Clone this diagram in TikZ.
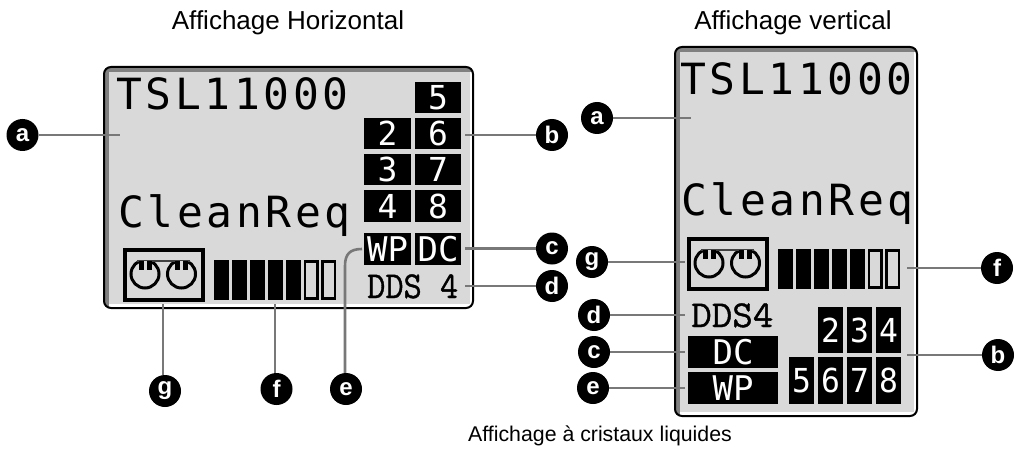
\documentclass[tikz,border=0pt]{standalone}
\usepackage{fontspec}
\setmainfont{Liberation Sans}
\newfontfamily\lcdfont{DejaVu Sans Mono}
\newfontfamily\lcdwide[LetterSpace=8.5]{DejaVu Sans Mono}
\newfontfamily\ddsfont[FakeBold=1]{Latin Modern Mono}
\definecolor{lcdface}{HTML}{D9D9D9}
\definecolor{bevel}{HTML}{808080}
\definecolor{leader}{HTML}{787878}
\newcommand{\lcdpanel}[4]{%
  \begin{scope}
    \clip[rounded corners=7pt] (#1,#2) rectangle (#3,#4);
    \fill[lcdface] (#1,#2) rectangle (#3,#4);
    \fill[bevel] (#1,#2) rectangle (#1+5,#4);
    \fill[bevel] (#1,#2) rectangle (#3,#2+5);
    \fill[white] (#1+5,#4-4) rectangle (#3,#4);
    \fill[white] (#3-3,#2+5) rectangle (#3,#4);
  \end{scope}
  \draw[line width=2pt,rounded corners=7pt] (#1,#2) rectangle (#3,#4);}
\newcommand{\cassette}[2]{%
  \begin{scope}[shift={(#1,#2)}]
    \draw[line width=3.6pt] (0,0) rectangle (78,50);
    \draw[line width=3pt] (20,24) circle[radius=14];
    \draw[line width=3pt] (56.5,24) circle[radius=14];
    \fill[lcdface] (5,5) rectangle (73,10);
    \draw[line width=1.6pt,black!75] (12,11) -- (65,11);
    \fill (13.5,11) rectangle (26.5,20);
    \fill (50,11) rectangle (63,20);
    \fill[lcdface] (18.5,11) rectangle (21.5,22);
    \fill[lcdface] (55,11) rectangle (58,22);
  \end{scope}}
\newcommand{\levelbar}[2]{%
  \begin{scope}[shift={(#1,#2)}]
    \foreach \k in {0,...,4} \fill ({\k*17.9},0) rectangle ({\k*17.9+15},40);
    \foreach \k in {5,6} \draw[line width=2.6pt] ({\k*17.9+1.3},1.3) rectangle ({\k*17.9+13.7},38.7);
  \end{scope}}
\tikzset{
  x=1pt,y=-1pt,
  callout/.style={circle,fill=black,text=white,minimum size=32pt,inner sep=0pt,font=\bfseries\fontsize{24}{24}\selectfont},
  conn/.style={draw=leader,line width=2.6pt},
  title/.style={inner sep=0pt,font=\fontsize{26}{26}\selectfont},
  lcdline/.style={inner sep=0pt,anchor=base west,font=\lcdwide\fontsize{43}{43}\selectfont},
  ddsline/.style={inner sep=0pt,anchor=base west,font=\ddsfont\fontsize{38}{38}\selectfont},
  cell/.style={fill=black,text=white,inner sep=0pt,font=\lcdfont\fontsize{33}{33}\selectfont},
  tagcell/.style={cell,font=\lcdfont\fontsize{34}{34}\selectfont},
}
\begin{document}
\begin{tikzpicture}
\useasboundingbox (0,0) rectangle (1016,449);
\node[title] (t1) at (288,23) {Affichage Horizontal};
\node[title] (t2) at (793,23) {Affichage vertical};
\node[inner sep=0pt,font=\fontsize{21.3}{22}\selectfont] (t3) at (600,436) {Affichage à cristaux liquides};

% horizontal display
\lcdpanel{104}{67}{473}{308}
\node[lcdline] (hname) at (116,110) {TSL11000};
\node[lcdline] (hclean) at (118,227) {CleanReq};
\node[cell,minimum width=46pt,minimum height=31pt] (h5) at (438,97.5) {5};
\node[cell,minimum width=47pt,minimum height=31pt] (h2) at (387.5,133.5) {2};
\node[cell,minimum width=46pt,minimum height=31pt] (h6) at (438,133.5) {6};
\node[cell,minimum width=47pt,minimum height=31pt] (h3) at (387.5,169.5) {3};
\node[cell,minimum width=46pt,minimum height=31pt] (h7) at (438,169.5) {7};
\node[cell,minimum width=47pt,minimum height=32pt] (h4) at (387.5,206) {4};
\node[cell,minimum width=46pt,minimum height=32pt] (h8) at (438,206) {8};
\node[tagcell,minimum width=47pt,minimum height=32pt] (hwp) at (387.5,249) {WP};
\node[tagcell,minimum width=46pt,minimum height=32pt] (hdc) at (438,249) {DC};
\node[ddsline] (hdds) at (367,298) {\scalebox{.93}[1]{DDS 4}};
\cassette{125}{250}
\levelbar{214}{260}

\node[callout] (ha) at (22.5,135) {a};
\node[callout] (hb) at (552,135) {b};
\node[callout] (hc) at (552,248.5) {c};
\node[callout] (hd) at (552,286) {d};
\node[callout] (he) at (346,389) {e};
\node[callout] (hf) at (276.5,389) {f};
\node[callout] (hg) at (165,391) {g};
\coordinate (haend) at (120,135);
\coordinate (hbend) at (465,135);
\coordinate (hcend) at (465,248.5);
\coordinate (hdend) at (465,286);
\coordinate (heend) at (362,249);
\coordinate (hebend) at (345,266);
\coordinate (hfend) at (275,304);
\coordinate (hgend) at (163,304);
\draw[conn] (ha) -- (haend);
\draw[conn] (hb) -- (hbend);
\draw[conn] (hc) -- (hcend);
\draw[conn] (hd) -- (hdend);
\draw[conn] (he.north -| hebend) -- (hebend) .. controls (345,254) and (350,249) .. (heend);
\draw[conn] (hf.north -| hfend) -- (hfend);
\draw[conn] (hg.north -| hgend) -- (hgend);

% vertical display
\lcdpanel{675}{47}{917}{416}
\node[lcdline] (vname) at (680,95) {TSL11000};
\node[lcdline] (vclean) at (681,215) {CleanReq};
\cassette{689}{239}
\levelbar{778}{249}
\node[ddsline] (vdds) at (691,327) {\scalebox{1.05}[1]{DDS4}};
\node[tagcell,minimum width=90pt,minimum height=32pt] (vdc) at (733,352) {DC};
\node[tagcell,minimum width=90pt,minimum height=32pt] (vwp) at (733,388) {WP};
\tikzset{vcell/.style={cell,minimum width=25pt,minimum height=46.5pt}}
\node[vcell] (v2) at (830.5,330) {\scalebox{.95}[1]{2}};
\node[vcell] (v3) at (859.5,330) {\scalebox{.95}[1]{3}};
\node[vcell] (v4) at (888.5,330) {\scalebox{.95}[1]{4}};
\node[vcell] (v5) at (801.5,380.5) {\scalebox{.95}[1]{5}};
\node[vcell] (v6) at (830.5,380.5) {\scalebox{.95}[1]{6}};
\node[vcell] (v7) at (859.5,380.5) {\scalebox{.95}[1]{7}};
\node[vcell] (v8) at (888.5,380.5) {\scalebox{.95}[1]{8}};

\node[callout] (va) at (597,118) {a};
\node[callout] (vb) at (998,355) {b};
\node[callout] (vc) at (594,352) {c};
\node[callout] (vd) at (594,315) {d};
\node[callout] (ve) at (593,388) {e};
\node[callout] (vf) at (997,268) {f};
\node[callout] (vg) at (592,262) {g};
\coordinate (vaend) at (691,118);
\coordinate (vbend) at (907,355);
\coordinate (vcend) at (685,352);
\coordinate (vdend) at (685,315);
\coordinate (veend) at (685,388);
\coordinate (vfend) at (907,268);
\coordinate (vgend) at (685,262);
\draw[conn] (va) -- (vaend);
\draw[conn] (vb) -- (vbend);
\draw[conn] (vc) -- (vcend);
\draw[conn] (vd) -- (vdend);
\draw[conn] (ve) -- (veend);
\draw[conn] (vf) -- (vfend);
\draw[conn] (vg) -- (vgend);
\end{tikzpicture}
\end{document}
